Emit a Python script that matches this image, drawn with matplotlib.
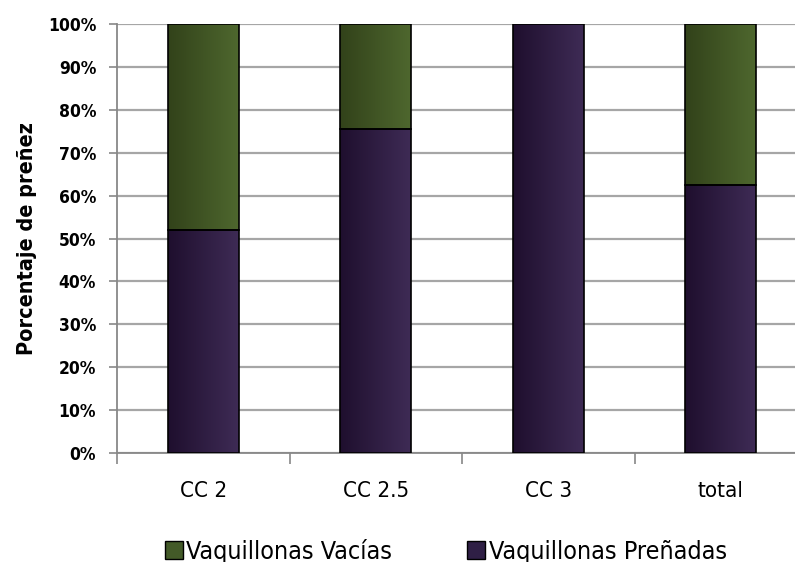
import matplotlib.pyplot as plt
import numpy as np
from matplotlib.ticker import PercentFormatter
from matplotlib.colors import LinearSegmentedColormap

# data (percent)
categorias = ['CC 2', 'CC 2.5', 'CC 3', 'total']
prenadas = [52.0, 75.5, 100.0, 62.5]
vacias = [48.0, 24.5, 0.0, 37.5]

plt.rcParams['font.family'] = ['DejaVu Sans']
plt.rcParams['font.stretch'] = 'condensed'

fig = plt.figure(figsize=(7.95, 5.62), dpi=100)
# plot area runs past the right edge, like the cropped reference
ax = fig.add_axes([117 / 795, 1 - 453 / 562, (807 - 117) / 795, (453 - 24) / 562])

x = np.arange(len(categorias))
w = 0.41
b1 = ax.bar(x, prenadas, w, color='#2f1f45', edgecolor='black', linewidth=1.2, zorder=3,
            label='Vaquillonas Preñadas')
b2 = ax.bar(x, vacias, w, bottom=prenadas, color='#435a28', edgecolor='black', linewidth=1.2,
            zorder=3, label='Vaquillonas Vacías')

# gradient fill inside each bar
grad = np.linspace(0, 1, 64).reshape(1, -1)
cm_p = LinearSegmentedColormap.from_list('p', ['#1f0f2e', '#3e2b55'])
cm_g = LinearSegmentedColormap.from_list('g', ['#32421a', '#4e672e'])
for bars, cm in ((b1, cm_p), (b2, cm_g)):
    for r in bars:
        if r.get_height() <= 0:
            continue
        x0, y0 = r.get_x(), r.get_y()
        im = ax.imshow(grad, cmap=cm, aspect='auto', zorder=3.5,
                       extent=(x0, x0 + r.get_width(), y0, y0 + r.get_height()))
        im.set_clip_path(r)
        r.set_facecolor('none')
        r.set_zorder(4)

ax.set_xlim(-0.5, 3.5)
ax.set_ylim(0, 100)
ax.set_yticks(np.arange(0, 101, 10))
ax.yaxis.set_major_formatter(PercentFormatter(decimals=0))
ax.grid(axis='y', color='#a6a6a6', linewidth=1.6, zorder=0)

ax.set_xticks(x)
ax.set_xticklabels(categorias, fontsize=16)
ax.set_xticks(np.arange(-0.5, 4, 1), minor=True)
ax.tick_params(axis='x', which='major', length=0, pad=20)
ax.tick_params(axis='x', which='minor', length=8, width=1.2, color='#888888', direction='out')
ax.tick_params(axis='y', length=6, width=1.2, color='#888888', labelsize=12.5, pad=9)
for t in ax.get_yticklabels():
    t.set_fontweight('bold')

for s in ['top', 'right']:
    ax.spines[s].set_visible(False)
ax.spines['left'].set_color('#888888')
ax.spines['bottom'].set_color('#888888')
ax.spines['left'].set_linewidth(1.3)
ax.spines['bottom'].set_linewidth(1.3)

ax.set_ylabel('Porcentaje de preñez', fontsize=15.5, fontweight='bold', labelpad=8)

handles = [plt.Rectangle((0, 0), 1, 1, facecolor='#435a28', edgecolor='black'),
           plt.Rectangle((0, 0), 1, 1, facecolor='#2f1f45', edgecolor='black')]
fig.legend(handles, ['Vaquillonas Vacías', 'Vaquillonas Preñadas'], loc='center',
           bbox_to_anchor=(446 / 795, 1 - 551 / 562), ncol=2, frameon=False, fontsize=18,
           handlelength=0.7, handleheight=0.7, handletextpad=0.15, columnspacing=3.0)

fig.savefig('out.png', dpi=100)
